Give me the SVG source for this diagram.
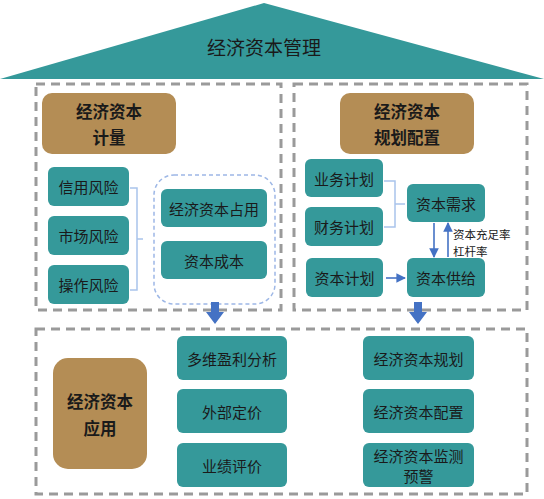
<svg xmlns="http://www.w3.org/2000/svg" width="544" height="499" viewBox="0 0 544 499">
<defs>
<style>
.t{font-family:"Noto Sans CJK SC","Noto Sans",sans-serif;fill:#1a1a1a;text-anchor:middle;dominant-baseline:central}
.teal{fill:#35999A}
.brown{fill:#B48D55}
.frame{fill:none;stroke:#9a9a9a;stroke-width:3;stroke-dasharray:9 6}
.br{fill:none;stroke:#A9C4EB;stroke-width:1.5}
.bl{stroke:#4472C4;stroke-width:1.6;fill:none}
.fat{fill:#4472C4}
</style>
<marker id="ah" viewBox="0 0 10 10" refX="9" refY="5" markerWidth="6" markerHeight="6" orient="auto-start-reverse"><path d="M0,0 L10,5 L0,10 z" fill="#4472C4"/></marker>
</defs>
<rect width="544" height="499" fill="#fff"/>
<g id="roof">
<polygon points="264,3 544,79 0,79" class="teal"/>
<text class="t" x="264" y="46" font-size="19">经济资本管理</text>
</g>
<g id="frames">
<rect x="36" y="84" width="245" height="226" class="frame"/>
<rect x="294" y="84" width="233" height="226" class="frame"/>
<rect x="36" y="329" width="491" height="165" class="frame"/>
</g>
<g id="connectors">
<path class="br" d="M130,188 H137 V290 H130 M137,239 H143"/>
<rect x="154" y="175" width="121" height="129" rx="20" fill="none" stroke="#9DB7E6" stroke-width="1.5" stroke-dasharray="4 3"/>
<path class="br" d="M384,181 H395 V227 H384 M395,204 H405"/>
<line class="bl" x1="434" y1="223" x2="434" y2="257" marker-end="url(#ah)"/>
<line class="bl" x1="448" y1="257" x2="448" y2="223" marker-end="url(#ah)"/>
<line class="bl" x1="386" y1="278" x2="405" y2="278" marker-end="url(#ah)"/>
<polygon class="fat" points="211,302 219,302 219,312 224,312 215,324 206,312 211,312"/>
<polygon class="fat" points="414,302 422,302 422,312 427,312 418,324 409,312 414,312"/>
<text class="t" x="453" y="234" font-size="11.5" style="text-anchor:start">资本充足率</text>
<text class="t" x="453" y="251" font-size="11.5" style="text-anchor:start">杠杆率</text>
</g>
<g id="n-jl">
<rect x="42" y="93" width="134" height="61" rx="10" class="brown"/>
<text class="t" x="109" y="111" font-size="16.5" font-weight="bold">经济资本</text>
<text class="t" x="109" y="137" font-size="16.5" font-weight="bold">计量</text>
</g>
<g id="n-xy"><rect x="48" y="167" width="81" height="39" rx="6" class="teal"/><text class="t" x="88.5" y="186.5" font-size="15">信用风险</text></g>
<g id="n-sc"><rect x="48" y="216" width="81" height="39" rx="6" class="teal"/><text class="t" x="88.5" y="235.5" font-size="15">市场风险</text></g>
<g id="n-cz"><rect x="48" y="265" width="81" height="39" rx="6" class="teal"/><text class="t" x="88.5" y="284.5" font-size="15">操作风险</text></g>
<g id="n-zy"><rect x="161" y="189" width="106" height="38" rx="6" class="teal"/><text class="t" x="214" y="208" font-size="15">经济资本占用</text></g>
<g id="n-cb"><rect x="161" y="241" width="106" height="38" rx="6" class="teal"/><text class="t" x="214" y="260" font-size="15">资本成本</text></g>
<g id="n-gh">
<rect x="340" y="93" width="134" height="61" rx="10" class="brown"/>
<text class="t" x="407" y="111" font-size="16.5" font-weight="bold">经济资本</text>
<text class="t" x="407" y="137" font-size="16.5" font-weight="bold">规划配置</text>
</g>
<g id="n-yw"><rect x="305" y="159" width="78" height="38" rx="6" class="teal"/><text class="t" x="344" y="178" font-size="15">业务计划</text></g>
<g id="n-cw"><rect x="305" y="207" width="78" height="39" rx="6" class="teal"/><text class="t" x="344" y="226.5" font-size="15">财务计划</text></g>
<g id="n-zbjh"><rect x="306" y="258" width="77" height="39" rx="6" class="teal"/><text class="t" x="344.5" y="277.5" font-size="15">资本计划</text></g>
<g id="n-xq"><rect x="407" y="184" width="78" height="38" rx="6" class="teal"/><text class="t" x="446" y="203" font-size="15">资本需求</text></g>
<g id="n-gj"><rect x="407" y="258" width="78" height="39" rx="6" class="teal"/><text class="t" x="446" y="277.5" font-size="15">资本供给</text></g>
<g id="n-yy">
<rect x="53" y="358" width="94" height="111" rx="15" class="brown"/>
<text class="t" x="100" y="401" font-size="16.5" font-weight="bold">经济资本</text>
<text class="t" x="100" y="428" font-size="16.5" font-weight="bold">应用</text>
</g>
<g id="n-dw"><rect x="177" y="336" width="110" height="44" rx="6" class="teal"/><text class="t" x="232" y="358" font-size="15">多维盈利分析</text></g>
<g id="n-wb"><rect x="177" y="389" width="110" height="44" rx="6" class="teal"/><text class="t" x="232" y="411" font-size="15">外部定价</text></g>
<g id="n-yj"><rect x="177" y="443" width="110" height="44" rx="6" class="teal"/><text class="t" x="232" y="465" font-size="15">业绩评价</text></g>
<g id="n-jjgh"><rect x="363" y="336" width="111" height="44" rx="6" class="teal"/><text class="t" x="418.5" y="358" font-size="15">经济资本规划</text></g>
<g id="n-pz"><rect x="363" y="389" width="111" height="44" rx="6" class="teal"/><text class="t" x="418.5" y="411" font-size="15">经济资本配置</text></g>
<g id="n-jc"><rect x="363" y="443" width="111" height="44" rx="6" class="teal"/><text class="t" x="418.5" y="455" font-size="15">经济资本监测</text><text class="t" x="418.5" y="475" font-size="15">预警</text></g>
</svg>
